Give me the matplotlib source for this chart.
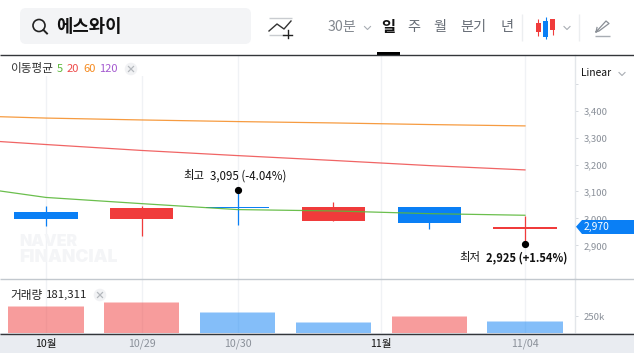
import matplotlib
matplotlib.use("Agg")
import matplotlib.pyplot as plt
from matplotlib.patches import Circle, FancyBboxPatch, Polygon, Rectangle

plt.rcParams['font.family'] = ['Noto Sans CJK KR', 'DejaVu Sans']
plt.rcParams['ytick.alignment'] = 'center_baseline'

# ---- data ----
positions = [0, 1, 2, 3, 4, 5]
opens = [3024, 2998, 3043, 2991, 3043, 2961]
closes = [2998, 3039, 3039, 3043, 2983, 2970]
highs = [3046, 3046, 3105, 3061, 3043, 3009]
lows = [2972, 2935, 2976, 2991, 2961, 2906]
volumes = [397000, 456000, 309000, 162000, 250000, 181311]
volume_up = [True, True, False, False, True, False]

ma_x = [-0.48, 0, 1, 2, 3, 4, 5]
ma5 = [3102, 3078, 3055, 3033, 3028, 3018, 3012]
ma20 = [3285, 3274, 3252, 3233, 3215, 3196, 3180]
ma60 = [3377, 3372, 3365, 3359, 3354, 3348, 3343]

date_ticks = [0, 1, 2, 3.5, 5]
date_labels = ['10월', '10/29', '10/30', '11월', '11/04']
date_strong = [True, False, False, True, False]
price_ticks = [2900, 3000, 3100, 3200, 3300, 3400, 3500]
price_labels = ['2,900', '3,000', '3,100', '3,200', '3,300', '3,400', '']
volume_ticks = [250000]
volume_labels = ['250k']

UP = '#f03b3b'
DOWN = '#0a7ff5'
GRID = '#f0f2f5'
W, H = 634, 353
PANEL_R = 574.5

fig = plt.figure(figsize=(W / 100, H / 100), dpi=100, facecolor='white')
fig.patches.append(Rectangle((0, 0), 1, 20 / H, transform=fig.transFigure,
                             facecolor='#e9ecf1', edgecolor='none', zorder=-5))

ax = fig.add_axes([0, (H - 278) / H, PANEL_R / W, 223 / H], facecolor='none')
vol = fig.add_axes([0, (H - 333) / H, PANEL_R / W, 55 / H], facecolor='none')

for a in (ax, vol):
    a.set_xlim(-0.48, 5.517)
    a.set_xticks(date_ticks)
    a.grid(axis='x', color=GRID, lw=1, zorder=0)
    a.set_axisbelow(True)
    a.yaxis.tick_right()
    a.tick_params(axis='y', length=2, width=0.7, color='#d5d9de', pad=4.8,
                  labelsize=6.9, labelcolor='#8a9099')
    for s in a.spines.values():
        s.set_visible(False)
    a.spines['right'].set_visible(True)
    a.spines['right'].set_color('#e3e6ea')
    a.spines['right'].set_linewidth(1)

# ---- price panel ----
ax.set_ylim(2779.6, 3605.6)
ax.set_yticks(price_ticks)
ax.set_yticklabels(price_labels)
ax.tick_params(axis='x', length=0, labelbottom=False)

for i, o, c, h, l in zip(positions, opens, closes, highs, lows):
    col = UP if c > o else DOWN
    ax.vlines(i, l, h, color=col, lw=0.9, zorder=2)
    ax.bar(i, abs(c - o), bottom=min(o, c), width=0.66, color=col, zorder=2)

ax.plot(ma_x, ma60, color='#f58a1f', lw=0.9, alpha=0.85, zorder=3)
ax.plot(ma_x, ma20, color='#ee4a4a', lw=0.9, alpha=0.85, zorder=3)
ax.plot(ma_x, ma5, color='#5bb83a', lw=0.9, alpha=0.9, zorder=3)

ax.plot([positions[2]], [highs[2]], 'o', color='black', ms=4.2, zorder=4)
ax.plot([positions[5]], [lows[5]], 'o', color='black', ms=4.2, zorder=4)

# ---- volume panel ----
vol.set_ylim(0, 811000)
vol.set_yticks(volume_ticks)
vol.set_yticklabels(volume_labels)
vol.tick_params(axis='x', length=0, pad=4, labelsize=7.6)
vol.set_xticklabels(date_labels)
for lab, strong in zip(vol.get_xticklabels(), date_strong):
    lab.set_color('#111111' if strong else '#8a9099')
    if strong:
        lab.set_fontweight('medium')
strip = 14700
for i, v, up in zip(positions, volumes, volume_up):
    col = UP if up else DOWN
    vol.bar(i, v - strip, width=0.785, color=col, alpha=0.5, zorder=2)
    vol.bar(i, strip, bottom=v - strip, width=0.785, color=col, alpha=0.25, zorder=2)

# ---- page furniture, in pixel coordinates ----
ov = fig.add_axes([0, 0, 1, 1], facecolor='none', zorder=10)
ov.set_xlim(0, W)
ov.set_ylim(H, 0)
ov.axis('off')

ov.add_patch(Rectangle((0, 56), 145, 20, facecolor='white', edgecolor='none'))
ov.hlines(55, 0, W, color='#33363a', lw=1)
ov.hlines(278.5, 0, W, color='#c2c8ce', lw=1)
ov.hlines(333.5, 0, W, color='#33363a', lw=1)

# search box
ov.add_patch(FancyBboxPatch((20, 8), 231, 36, boxstyle='round,pad=0,rounding_size=6',
                            mutation_scale=1, facecolor='#f3f4f6', edgecolor='none'))
ov.add_patch(Circle((39, 25.5), 6, fill=False, edgecolor='#222222', lw=1.2))
ov.plot([43.5, 47], [30, 33.5], color='#222222', lw=1.4)
ov.text(56, 26.5, '에스와이', fontsize=12.8, fontweight='bold', color='#111111', va='center', ha='left')

# indicator icon
ov.hlines(17.5, 269, 292, color='#c9ccd0', lw=1)
ov.hlines(34.5, 269, 285, color='#c9ccd0', lw=1)
ov.plot([269, 277, 284, 291], [31, 24, 29, 21], color='#333333', lw=1)
ov.plot([283, 292], [34.5, 34.5], color='#222222', lw=1)
ov.plot([288, 288], [30, 38], color='#222222', lw=1)

# period tabs
ov.text(342, 27, '30분', fontsize=10.2, color='#83888f', ha='center', va='center')
ov.text(388.5, 27, '일', fontsize=11, fontweight='bold', color='#111111', ha='center', va='center')
for x, t in zip([414, 440, 473, 507], ['주', '월', '분기', '년']):
    ov.text(x, 27, t, fontsize=10.2, fontweight='medium', color='#666c75', ha='center', va='center')
ov.add_patch(Rectangle((377, 52), 23, 3, facecolor='black', edgecolor='none'))


def chevron(x, y):
    ov.plot([x - 3, x, x + 3], [y - 1.5, y + 1.5, y - 1.5], color='#a8adb3', lw=0.8)


chevron(367.5, 28)
chevron(567, 28)
chevron(622, 74)
ov.vlines([521.5, 578.5], 14, 41, color='#eceef0', lw=1)

# candle type icon
for x0, w, y0, y1, wy0, wy1, c in [(536, 4.5, 23, 32, 19, 36, UP), (543, 5, 21, 37, 17, 39, DOWN),
                                   (550, 5, 19, 30, 19, 35, UP)]:
    ov.vlines(x0 + w / 2, wy0, wy1, color=c, lw=0.8)
    ov.add_patch(Rectangle((x0, y0), w, y1 - y0, facecolor=c, edgecolor='none'))

# pen icon
ov.plot([597, 596, 606, 609, 599, 596], [27.5, 32, 21, 23.5, 31, 32], color='#8a8f96', lw=0.9)
ov.hlines(35.5, 595, 610, color='#a8adb3', lw=1)

ov.text(581, 73, 'Linear', fontsize=7.4, color='#111111', ha='left', va='center')

# moving-average legend
ov.text(10, 68.5, '이동평균', fontsize=8.4, color='#333333', ha='left', va='center')
for x, t, c in [(57, '5', '#5bb83a'), (67, '20', '#ee4a4a'), (83, '60', '#f58a1f'), (99, '120', '#a45ad0')]:
    ov.text(x, 68.5, t, fontsize=8, color=c, ha='left', va='center')


def close_button(x, y):
    ov.add_patch(Circle((x, y), 6.3, facecolor='#f1f2f4', edgecolor='none'))
    ov.plot([x - 2.5, x + 2.5], [y - 2.5, y + 2.5], color='#b4b8bd', lw=0.9)
    ov.plot([x - 2.5, x + 2.5], [y + 2.5, y - 2.5], color='#b4b8bd', lw=0.9)


close_button(131, 69)
close_button(100, 295)
ov.text(10, 295, '거래량', fontsize=8.4, color='#222222', ha='left', va='center')
ov.text(45.5, 295, '181,311', fontsize=8.2, color='#222222', ha='left', va='center')

# watermark
ov.text(19.5, 242, 'NAVER', fontsize=11.5, fontweight='black', family='Inter', color='#f4f5f7', ha='left', va='center')
ov.text(19.5, 257.5, 'FINANCIAL', fontsize=12.6, fontweight='black', family='Inter', color='#f4f5f7', ha='left', va='center')

# high and low captions
ov.text(183, 176, '최고', fontsize=8.2, color='#111111', ha='left', va='center')
ov.text(210, 176, '3,095 (-4.04%)', fontsize=8.3, fontweight='medium', color='#111111', ha='left', va='center')
ov.text(459, 258, '최저', fontsize=8.2, color='#111111', ha='left', va='center')
ov.text(486, 258, '2,925 (+1.54%)', fontsize=8, fontweight='bold', color='#111111', ha='left', va='center')

# current price flag
ov.add_patch(Polygon([(576, 226.7), (582, 220), (W, 220), (W, 234), (582, 234)],
                     facecolor='#0a7ff5', edgecolor='none'))
ov.text(584, 226.7, '2,970', fontsize=7.4, color='white', ha='left', va='center')

fig.savefig('out.png', dpi=100)
